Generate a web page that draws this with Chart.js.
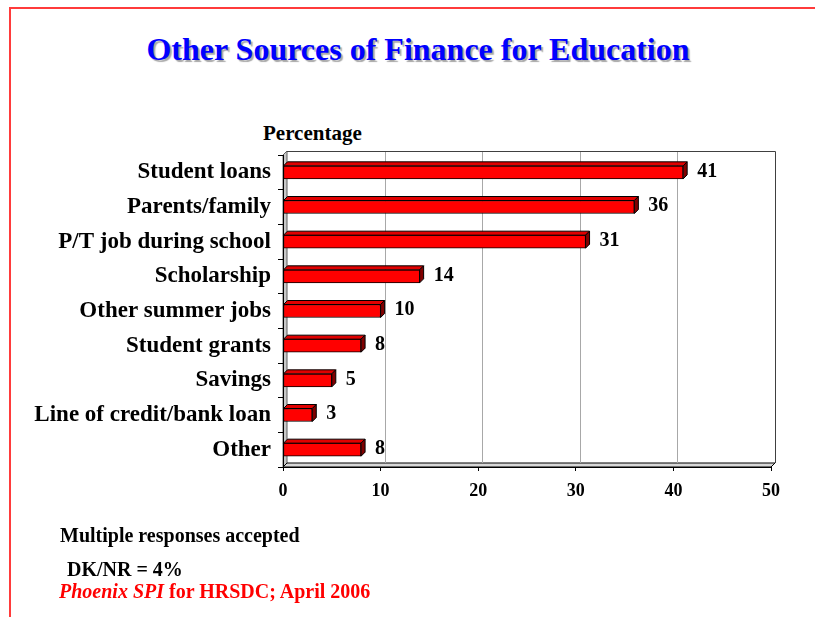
<!DOCTYPE html>
<html>
<head>
<meta charset="utf-8">
<script src="https://cdn.jsdelivr.net/npm/chart.js@4/dist/chart.umd.min.js"></script>
<style>
  html, body { margin: 0; padding: 0; background: #fff; }
  body { width: 815px; height: 617px; position: relative; overflow: hidden;
         font-family: "Liberation Serif", "Times New Roman", serif; }
  #frame { position: absolute; left: 9px; top: 7px; width: 900px; height: 700px;
           border-left: 2px solid #ff3b3b; border-top: 2px solid #ff3b3b; }
  #title { position: absolute; left: 0; width: 836px; top: 31px; text-align: center;
           font-size: 32px; font-weight: bold; color: #0000ff;
           text-shadow: 2px 2px 1px #a8a8a8; }
  #unit { position: absolute; left: 263px; top: 121px; font-size: 21px; font-weight: bold; color: #000; }
  .note { position: absolute; font-size: 20px; font-weight: bold; white-space: nowrap; }
  #chart { position: absolute; left: 0; top: 0; }
</style>
</head>
<body>
<div id="frame"></div>
<div id="title">Other Sources of Finance for Education</div>
<div id="unit">Percentage</div>
<canvas id="chart" width="815" height="617"></canvas>
<div class="note" style="left:60px; top:524px; color:#000;">Multiple responses accepted</div>
<div class="note" style="left:67px; top:558px; color:#000;">DK/NR = 4%</div>
<div class="note" style="left:59px; top:580px; color:#ff0000;"><i>Phoenix SPI</i> for HRSDC; April 2006</div>
<script>
// Sources of finance and share of respondents (%)
const categories = [
  "Student loans",
  "Parents/family",
  "P/T job during school",
  "Scholarship",
  "Other summer jobs",
  "Student grants",
  "Savings",
  "Line of credit/bank loan",
  "Other"
];
const percentages = [41, 36, 31, 14, 10, 8, 5, 3, 8];
const axisTicks = [0, 10, 20, 30, 40, 50];

const SERIF = '"Liberation Serif", "Times New Roman", serif';
const DEPTH = 4;

// Back wall, side wall and floor behind the bars
const wallsPlugin = {
  id: 'walls',
  beforeDraw(chart) {
    const { ctx, chartArea: a, scales } = chart;
    const d = DEPTH;
    ctx.save();
    // left wall
    ctx.beginPath();
    ctx.moveTo(a.left, a.top);
    ctx.lineTo(a.left + d, a.top - d);
    ctx.lineTo(a.left + d, a.bottom - d);
    ctx.lineTo(a.left, a.bottom);
    ctx.closePath();
    ctx.fillStyle = '#c8c8c8';
    ctx.fill();
    ctx.strokeStyle = '#606060';
    ctx.lineWidth = 1;
    ctx.stroke();
    // floor
    ctx.beginPath();
    ctx.moveTo(a.left, a.bottom);
    ctx.lineTo(a.left + d, a.bottom - d);
    ctx.lineTo(a.right + d, a.bottom - d);
    ctx.lineTo(a.right, a.bottom);
    ctx.closePath();
    ctx.fillStyle = '#d8d8d8';
    ctx.fill();
    ctx.strokeStyle = '#000';
    ctx.stroke();
    // grid lines on the back wall
    ctx.strokeStyle = '#a8a8a8';
    axisTicks.forEach(v => {
      if (v === axisTicks[0] || v === axisTicks[axisTicks.length - 1]) return;
      const x = Math.round(scales.x.getPixelForValue(v) + d) + 0.5;
      ctx.beginPath();
      ctx.moveTo(x, a.top - d);
      ctx.lineTo(x, a.bottom - d);
      ctx.stroke();
    });
    // back wall outline
    ctx.strokeStyle = '#404040';
    ctx.beginPath();
    ctx.moveTo(a.left + d, a.top - d + 0.5);
    ctx.lineTo(a.right + d + 0.5, a.top - d + 0.5);
    ctx.lineTo(a.right + d + 0.5, a.bottom - d);
    ctx.stroke();
    ctx.restore();
  }
};

// Top and side faces of each bar, plus the value labels
const barFacesPlugin = {
  id: 'barFaces',
  afterDatasetsDraw(chart) {
    const { ctx } = chart;
    const d = DEPTH;
    const meta = chart.getDatasetMeta(0);
    ctx.save();
    ctx.lineWidth = 1;
    ctx.strokeStyle = '#000';
    meta.data.forEach((bar, i) => {
      const x0 = bar.base, x1 = bar.x;
      const yT = bar.y - bar.height / 2, yB = bar.y + bar.height / 2;
      // top face
      ctx.beginPath();
      ctx.moveTo(x0, yT);
      ctx.lineTo(x0 + d, yT - d);
      ctx.lineTo(x1 + d, yT - d);
      ctx.lineTo(x1, yT);
      ctx.closePath();
      ctx.fillStyle = '#e00000';
      ctx.fill();
      ctx.stroke();
      // side face
      ctx.beginPath();
      ctx.moveTo(x1, yT);
      ctx.lineTo(x1 + d, yT - d);
      ctx.lineTo(x1 + d, yB - d);
      ctx.lineTo(x1, yB);
      ctx.closePath();
      ctx.fillStyle = '#800000';
      ctx.fill();
      ctx.stroke();
      // value label
      ctx.fillStyle = '#000';
      ctx.font = 'bold 20px ' + SERIF;
      ctx.textAlign = 'left';
      ctx.textBaseline = 'middle';
      ctx.fillText(String(percentages[i]), x1 + d + 10, bar.y - 1);
    });
    ctx.restore();
  }
};

new Chart(document.getElementById('chart'), {
  type: 'bar',
  data: {
    labels: categories,
    datasets: [{
      data: percentages,
      backgroundColor: '#ff0000',
      borderColor: '#000',
      borderWidth: 1,
      borderSkipped: false,
      barThickness: 13
    }]
  },
  options: {
    indexAxis: 'y',
    responsive: false,
    animation: false,
    devicePixelRatio: 1,
    layout: { padding: { top: 155, right: 44, bottom: 100, left: 0 } },
    plugins: { legend: { display: false }, tooltip: { enabled: false }, title: { display: false } },
    scales: {
      x: {
        min: axisTicks[0],
        max: axisTicks[axisTicks.length - 1],
        afterBuildTicks(scale) { scale.ticks = axisTicks.map(v => ({ value: v })); },
        afterFit(scale) { scale.height = 50; },
        ticks: { color: '#000', font: { family: SERIF, size: 18, weight: 'bold' }, padding: 10, maxRotation: 0 },
        grid: { drawOnChartArea: false, drawTicks: true, tickLength: 4, color: '#000' },
        border: { display: true, color: '#000', width: 1 }
      },
      y: {
        afterFit(scale) { scale.width = 283; },
        ticks: { color: '#000', font: { family: SERIF, size: 23, weight: 'bold' }, padding: 7, autoSkip: false },
        grid: { drawOnChartArea: false, drawTicks: true, tickLength: 5, color: '#000', offset: true },
        border: { display: true, color: '#000', width: 1 }
      }
    }
  },
  plugins: [wallsPlugin, barFacesPlugin]
});
</script>
</body>
</html>
